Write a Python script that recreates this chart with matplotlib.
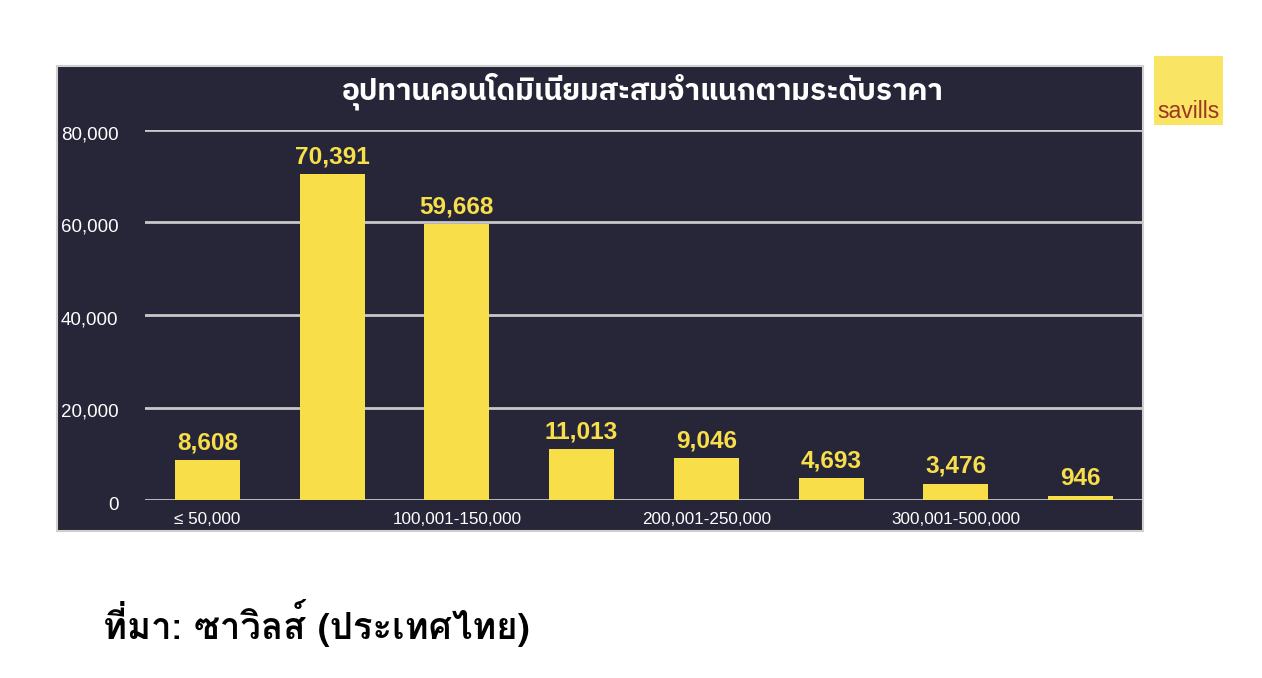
import matplotlib
matplotlib.use('Agg')
import matplotlib.pyplot as plt
from matplotlib.patches import Rectangle
from matplotlib.transforms import ScaledTranslation

# datos del grafico
categorias = ['≤ 50,000', '50,001-100,000', '100,001-150,000', '150,001-200,000',
              '200,001-250,000', '250,001-300,000', '300,001-500,000', '> 500,000']
unidades = [8608, 70391, 59668, 11013, 9046, 4693, 3476, 946]
ticks_y = [0, 20000, 40000, 60000, 80000]
titulo = 'อุปทานคอนโดมิเนียมสะสมจำแนกตามระดับราคา'
fuente = 'ที่มา: ซาวิลส์ (ประเทศไทย)'

plt.rcParams['font.family'] = ['Liberation Sans', 'DejaVu Sans']

fondo = '#262638'
amarillo = '#F8DF4A'
W, H = 1262, 678

fig = plt.figure(figsize=(12.62, 6.78), dpi=100)

# panel oscuro detras del grafico
fig.patches.append(Rectangle((57 / W, 1 - 531 / H), 1086 / W, 465 / H, transform=fig.transFigure,
                             facecolor=fondo, edgecolor='#cfcfcf', linewidth=1.5, zorder=-1))

ax = fig.add_axes([145 / W, 1 - 500 / H, 998 / W, 370 / H])
ax.set_facecolor('none')
x = range(len(categorias))
ax.bar(x, unidades, width=0.52, color=amarillo, zorder=3)
ax.set_xlim(-0.5, 7.5)
ax.set_ylim(0, 80000)
for i, v in enumerate(unidades):
    ax.text(i, v + 1300, f'{v:,}', ha='center', va='bottom', color=amarillo,
            fontsize=17.6, fontweight='bold')

ax.set_yticks(ticks_y)
ax.set_yticklabels([f'{t:,}' for t in ticks_y], color='white', fontsize=13.5)
ax.set_xticks(list(x))
# solo se ven las etiquetas pares
ax.set_xticklabels([c if i % 2 == 0 else '' for i, c in enumerate(categorias)],
                   color='white', fontsize=12.3, family=['Liberation Sans', 'DejaVu Sans'])
ax.tick_params(length=0)
ax.tick_params(axis='x', pad=9)
ax.tick_params(axis='y', pad=19)
# bajar un poco las etiquetas del eje y
bajar = ScaledTranslation(0, -3 / 100, fig.dpi_scale_trans)
for lab in ax.get_yticklabels():
    lab.set_transform(lab.get_transform() + bajar)
ax.yaxis.grid(True, color='#c8c8c8', linewidth=2, zorder=1)
for s in ax.spines.values():
    s.set_visible(False)

fig.text(643 / W, 1 - 91 / H, titulo, ha='center', va='center', color='white',
         fontsize=21.4, fontweight='bold', family=['IBM Plex Sans Thai', 'DejaVu Sans'])

# fuente de los datos
fig.text(103 / W, 1 - 623 / H, fuente, ha='left', va='center', color='black',
         fontsize=26.3, fontweight='bold', family=['Loma', 'DejaVu Sans'])

# logo savills
fig.patches.append(Rectangle((1154 / W, 1 - 125 / H), 69 / W, 69 / H, transform=fig.transFigure,
                             facecolor='#F9E463', edgecolor='none'))
fig.text(1188 / W, 1 - 111 / H, 'savills', ha='center', va='center', color='#9E3623',
         fontsize=16.5)

plt.savefig('out.png', dpi=100)
